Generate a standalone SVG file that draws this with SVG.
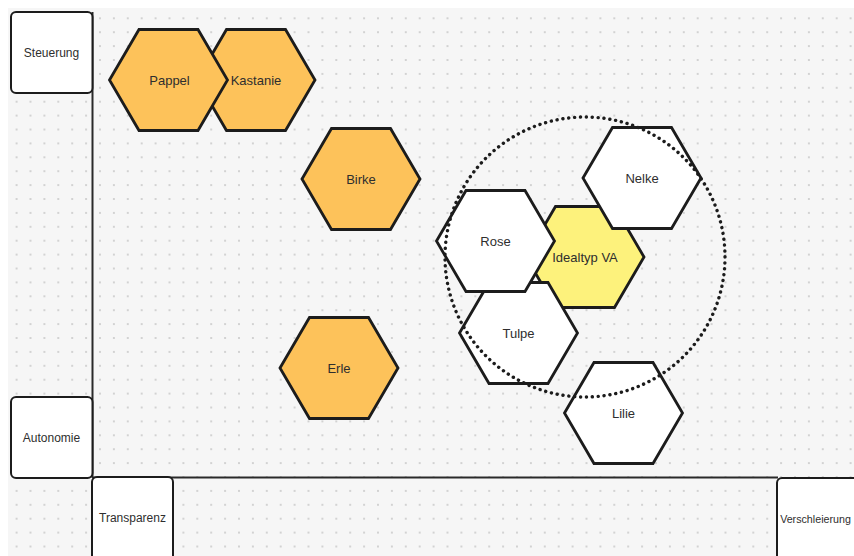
<svg xmlns="http://www.w3.org/2000/svg" xmlns:xlink="http://www.w3.org/1999/xlink" width="854" height="556" viewBox="0 0 854 556">
  <style>
    .hex { stroke: #1c1c1c; stroke-width: 2.8; stroke-linejoin: miter; }
    .orange { fill: #FDC25A; }
    .yellow { fill: #FDF27C; }
    .white { fill: #FFFFFF; }
    .box { fill: #FFFFFF; stroke: #1c1c1c; stroke-width: 2; }
    .axis { stroke: #2a2a2a; stroke-width: 2; fill: none; }
    .label { font-family: "Liberation Sans", Arial, sans-serif; font-size: 13px; fill: #2e2e2e; text-anchor: middle; dominant-baseline: central; }
    .axislabel { font-family: "Liberation Sans", Arial, sans-serif; font-size: 12px; fill: #2e2e2e; text-anchor: middle; dominant-baseline: central; }
    .ring { fill: none; stroke: #1c1c1c; stroke-width: 3.4; stroke-linecap: round; stroke-dasharray: 0.1 5.8; }
  </style>
  <defs>
    <pattern id="dots" patternUnits="userSpaceOnUse" x="9.65" y="11.35" width="13.9" height="13.9">
      <circle cx="6.95" cy="6.95" r="0.9" fill="#c2c2c2"/>
    </pattern>
    <polygon id="hexShape" points="-59,0 -29.5,-50.5 29.5,-50.5 59,0 29.5,50.5 -29.5,50.5"/>
  </defs>

  <!-- canvas -->
  <rect x="0" y="0" width="854" height="556" fill="#FFFFFF"/>
  <rect x="8" y="8" width="846" height="548" fill="#F6F6F6"/>
  <rect x="8" y="8" width="846" height="548" fill="url(#dots)"/>

  <!-- axes -->
  <g id="connectors">
    <line class="axis" x1="92.5" y1="12" x2="92.5" y2="478"/>
    <line class="axis" x1="92" y1="477.5" x2="778" y2="477.5"/>
  </g>

  <!-- axis end labels -->
  <g id="steuerung">
    <rect class="box" x="11" y="12" width="81.5" height="81" rx="5"/>
    <text class="axislabel" x="51.5" y="53">Steuerung</text>
  </g>
  <g id="autonomie">
    <rect class="box" x="11" y="397" width="81.5" height="81" rx="5"/>
    <text class="axislabel" x="51.5" y="438">Autonomie</text>
  </g>
  <g id="transparenz">
    <rect class="box" x="92" y="477" width="81" height="84" rx="5"/>
    <text class="axislabel" x="132.5" y="518">Transparenz</text>
  </g>
  <g id="verschleierung">
    <rect class="box" x="777" y="478" width="84" height="84" rx="5"/>
    <text class="axislabel" x="815.5" y="519" style="font-size:10.7px">Verschleierung</text>
  </g>

  <!-- hexagon nodes -->
  <g id="kastanie">
    <use xlink:href="#hexShape" class="hex orange" transform="translate(256,80)"/>
    <text class="label" x="256" y="80">Kastanie</text>
  </g>
  <g id="pappel">
    <use xlink:href="#hexShape" class="hex orange" transform="translate(168.5,80)"/>
    <text class="label" x="169.5" y="80">Pappel</text>
  </g>
  <g id="birke">
    <use xlink:href="#hexShape" class="hex orange" transform="translate(361,179)"/>
    <text class="label" x="361" y="179">Birke</text>
  </g>
  <g id="erle">
    <use xlink:href="#hexShape" class="hex orange" transform="translate(339,368)"/>
    <text class="label" x="339" y="368">Erle</text>
  </g>
  <g id="idealtyp-va">
    <use xlink:href="#hexShape" class="hex yellow" transform="translate(585,257)"/>
    <text class="label" x="585" y="257.5">Idealtyp VA</text>
  </g>
  <g id="nelke">
    <use xlink:href="#hexShape" class="hex white" transform="translate(642,178)"/>
    <text class="label" x="642" y="178">Nelke</text>
  </g>
  <g id="tulpe">
    <use xlink:href="#hexShape" class="hex white" transform="translate(518.5,333)"/>
    <text class="label" x="518.5" y="333">Tulpe</text>
  </g>
  <g id="rose">
    <use xlink:href="#hexShape" class="hex white" transform="translate(495.5,241)"/>
    <text class="label" x="495.5" y="241">Rose</text>
  </g>
  <g id="lilie">
    <use xlink:href="#hexShape" class="hex white" transform="translate(623.5,413)"/>
    <text class="label" x="623.5" y="413">Lilie</text>
  </g>

  <!-- dotted grouping ring -->
  <g id="cluster-ring">
    <circle class="ring" cx="585" cy="257" r="140"/>
  </g>
</svg>
